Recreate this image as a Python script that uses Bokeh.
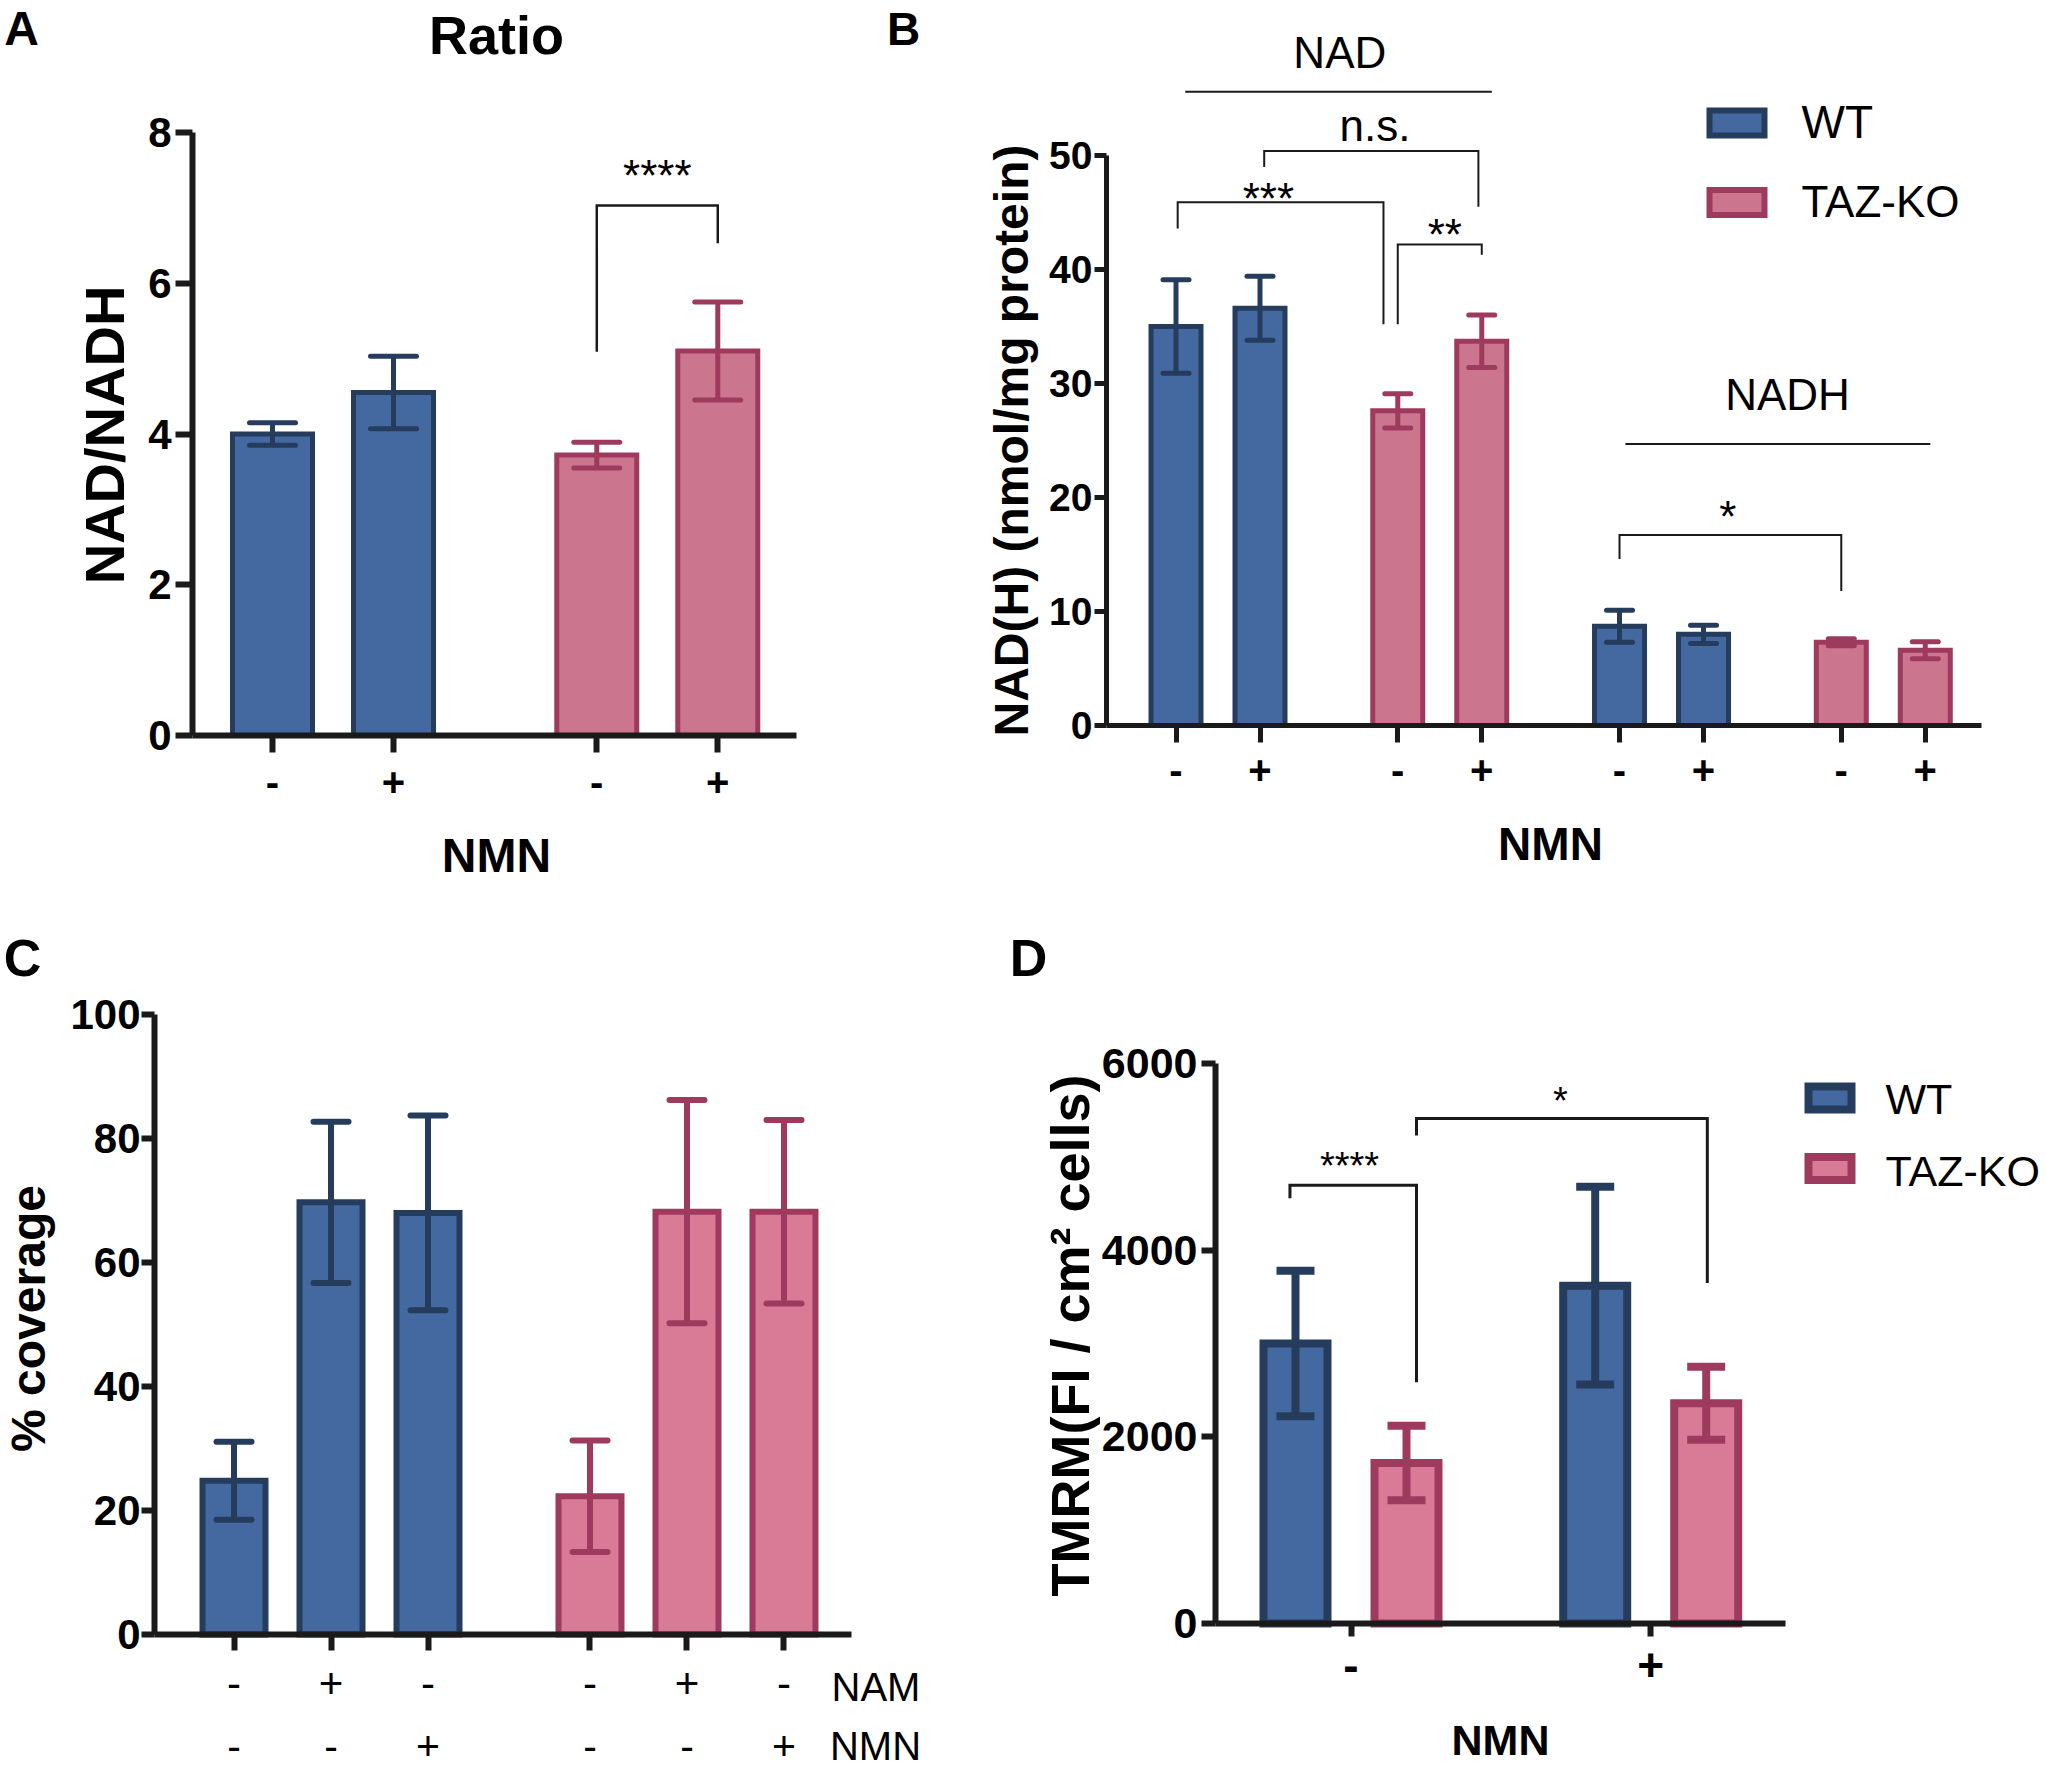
import math
from bokeh.plotting import figure
from bokeh.models import (Range1d, FixedTicker, Whisker, TeeHead, Label, LabelSet,
                          ColumnDataSource)
from bokeh.layouts import row, column
from bokeh.embed import file_html
from bokeh.resources import INLINE
from bokeh.core.properties import value

# ------------------------------------------------------------------ data
# Panel A : NAD/NADH ratio
a_nmn = ["-", "+", "-", "+"]
a_groups = ["WT", "WT", "TAZ-KO", "TAZ-KO"]
a_mean = [4.0, 4.55, 3.72, 5.1]
a_sem = [0.15, 0.48, 0.17, 0.65]
a_ticks_y = [0, 2, 4, 6, 8]

# Panel B : NAD(H) nmol/mg protein
b_nmn = ["-", "+", "-", "+", "-", "+", "-", "+"]
b_groups = ["WT", "WT", "TAZ-KO", "TAZ-KO", "WT", "WT", "TAZ-KO", "TAZ-KO"]
b_metab = ["NAD", "NAD", "NAD", "NAD", "NADH", "NADH", "NADH", "NADH"]
b_mean = [35.0, 36.6, 27.6, 33.7, 8.7, 8.0, 7.3, 6.6]
b_sem = [4.1, 2.8, 1.5, 2.3, 1.4, 0.8, 0.3, 0.75]
b_ticks_y = [0, 10, 20, 30, 40, 50]

# Panel C : % coverage
c_nam = ["-", "+", "-", "-", "+", "-"]
c_nmn = ["-", "-", "+", "-", "-", "+"]
c_groups = ["WT", "WT", "WT", "TAZ-KO", "TAZ-KO", "TAZ-KO"]
c_mean = [24.8, 69.7, 68.0, 22.3, 68.2, 68.2]
c_sem = [6.3, 13.0, 15.7, 9.0, 18.0, 14.8]
c_ticks_y = [0, 20, 40, 60, 80, 100]

# Panel D : TMRM
d_nmn_groups = ["-", "+"]
d_groups = ["WT", "TAZ-KO", "WT", "TAZ-KO"]
d_mean = [3000, 1720, 3620, 2360]
d_sem = [780, 400, 1060, 390]
d_ticks_y = [0, 2000, 4000, 6000]

# ------------------------------------------------------------------ style
FONT = "Liberation Sans"
WT_FILL, WT_LINE = "#4369a0", "#263c5c"
KO_FILL, KO_LINE = "#cc758e", "#9d3a5e"
KO_FILL2 = "#d97b97"
INK = "#1a1a1a"

# vertical anchor shift (in em, + = downwards on screen) for each kind of text
SHIFT = {"cap": 0.0, "star": 0.18, "base": -0.36}


class Panel:
    """A figure whose frame covers the whole figure; axes are pinned inside it."""

    def __init__(self, fig_box, yaxis_px, xaxis_py, first_x, first_px, pxu_x, pxu_y):
        fx, fy, fw, fh = fig_box
        self.fx, self.fy = fx, fy
        self.pxu_x, self.pxu_y = pxu_x, pxu_y
        self.axis_py = xaxis_py
        self.yaxis_px = yaxis_px
        self.x_start = first_x - (first_px - fx) / pxu_x
        x_end = self.x_start + fw / pxu_x
        y_start = -(fy + fh - xaxis_py) / pxu_y
        y_end = y_start + fh / pxu_y
        p = figure(width=fw, height=fh,
                   x_range=Range1d(self.x_start, x_end), y_range=Range1d(y_start, y_end),
                   output_backend="svg", toolbar_location=None,
                   min_border=0, min_border_left=0, min_border_right=0,
                   min_border_top=0, min_border_bottom=0)
        p.outline_line_color = None
        p.grid.visible = False
        p.title.visible = False
        self.p = p

    def X(self, px):
        return self.x_start + (px - self.fx) / self.pxu_x

    def Y(self, py):
        return (self.axis_py - py) / self.pxu_y

    def text(self, px, py, s, size, bold=False, angle=0.0, align="center", kind="cap"):
        off = SHIFT[kind] * size
        if angle:
            ax, ay = px + off, py
        else:
            ax, ay = px, py + off
        self.p.add_layout(Label(x=self.X(ax), y=self.Y(ay), text=s, text_font=FONT,
                                text_font_size=f"{size}px",
                                text_font_style="bold" if bold else "normal",
                                text_align=align, text_baseline="alphabetic",
                                angle=angle, text_color="black"))

    def text_data(self, x, yv, s, size, kind="star"):
        off = SHIFT[kind] * size
        self.p.add_layout(Label(x=x, y=yv - off / self.pxu_y, text=s, text_font=FONT,
                                text_font_size=f"{size}px", text_align="center",
                                text_baseline="alphabetic", text_color="black"))

    def bars(self, xs, mean, sem, groups, width, lw, cap, ko_fill, round_cap=True):
        for g, fill, line in (("WT", WT_FILL, WT_LINE), ("TAZ-KO", ko_fill, KO_LINE)):
            idx = [i for i, gg in enumerate(groups) if gg == g]
            src = ColumnDataSource(dict(
                x=[xs[i] for i in idx],
                top=[mean[i] for i in idx],
                lower=[mean[i] - sem[i] for i in idx],
                upper=[mean[i] + sem[i] for i in idx]))
            self.p.vbar(x="x", top="top", bottom=0, width=width, source=src,
                        fill_color=fill, line_color=line, line_width=lw,
                        line_join="miter")
            lc = "round" if round_cap else "butt"

            def head():
                return TeeHead(size=cap, line_color=line, line_width=lw, line_cap=lc)
            self.p.add_layout(Whisker(source=src, base="x", lower="lower", upper="upper",
                                      dimension="height", line_color=line, line_width=lw,
                                      upper_head=head(), lower_head=head(), level="overlay"))

    def bracket(self, x1, x2, y1, ytop, y2, lw):
        self.p.line([x1, x1, x2, x2], [y1, ytop, ytop, y2], line_color=INK,
                    line_width=lw, line_join="miter")

    def axes(self, xticks, xlabels, yticks, lw, xtick_out, ytick_out, xfs, yfs,
             xstand, ystand, x_end_px, xbold=True):
        p = self.p
        for ax in (p.xaxis[0], p.yaxis[0]):
            ax.axis_line_width = lw
            ax.axis_line_color = INK
            ax.major_tick_line_width = lw
            ax.major_tick_line_color = INK
            ax.major_tick_in = 0
            ax.minor_tick_line_color = None
            ax.major_label_text_font = FONT
            ax.major_label_text_color = "black"
        xa, ya = p.xaxis[0], p.yaxis[0]
        xa.fixed_location = 0
        xa.bounds = (self.X(self.yaxis_px), self.X(x_end_px))
        xa.ticker = FixedTicker(ticks=list(xticks))
        xa.major_label_overrides = {t: l for t, l in zip(xticks, xlabels)}
        xa.major_tick_out = xtick_out
        xa.major_label_text_font_size = f"{xfs}px"
        xa.major_label_text_font_style = "bold" if xbold else "normal"
        xa.major_label_standoff = xstand
        ya.fixed_location = self.X(self.yaxis_px)
        ya.bounds = (yticks[0], yticks[-1])
        ya.ticker = FixedTicker(ticks=list(yticks))
        ya.major_tick_out = ytick_out
        ya.major_label_text_font_size = f"{yfs}px"
        ya.major_label_text_font_style = "bold"
        ya.major_label_standoff = ystand


# ------------------------------------------------------------------ Panel A
a_x = [1, 2, 3.68, 4.68]
A = Panel((0, 0, 880, 882), 192, 735, a_x[0], 272, 121, 603 / 8)
A.bars(a_x, a_mean, a_sem, a_groups, 80 / 121, 5, 46, KO_FILL)
A.axes(a_x, a_nmn, a_ticks_y, 6, 17, 17, 40, 42, 15, 4, 796)
A.bracket(a_x[2], a_x[3], 5.09, 7.03, 6.53, 2.5)
A.text_data((a_x[2] + a_x[3]) / 2, 7.54, "****", 44)
A.text(21, 28, "A", 48, bold=True)
A.text(496, 34, "Ratio", 54, bold=True)
A.text(104, 434.5, "NAD/NADH", 56, bold=True, angle=math.pi / 2)
A.text(496, 855, "NMN", 48, bold=True)

# ------------------------------------------------------------------ Panel B
b_x = [1 + 2.64 * (i // 2) + (i % 2) for i in range(8)]
B = Panel((880, 0, 1160, 882), 1106, 725, b_x[0], 1175.5, 84, 570 / 50)
B.bars(b_x, b_mean, b_sem, b_groups, 50 / 84, 5, 26, KO_FILL)
B.axes(b_x, b_nmn, b_ticks_y, 5, 17, 12, 40, 39, 13, 2, 1981)
# significance brackets
B.bracket(b_x[0] + 0.02, 3.47, 43.6, 45.9, 35.2, 2)
B.text_data(2.1, 46.9, "***", 44)
B.bracket(b_x[2], b_x[3], 35.2, 42.2, 41.3, 2)
B.text_data(4.2, 43.8, "**", 44)
B.bracket(2.05, 4.6, 49.0, 50.4, 45.5, 2)
B.text_data(3.37, 51.2, "n.s.", 44, kind="base")
B.bracket(b_x[4], b_x[6], 14.6, 16.7, 11.8, 2)
B.text_data(7.57, 19.0, "*", 44)
# metabolite group lines
B.p.line([1.11, 4.76], [55.6, 55.6], line_color=INK, line_width=2)
B.text_data(2.95, 59.0, "NAD", 44, kind="cap")
B.p.line([6.35, 9.98], [24.7, 24.7], line_color=INK, line_width=2)
B.text_data(8.28, 29.0, "NADH", 44, kind="cap")
# legend
for cy, fill, line in ((122.5, WT_FILL, WT_LINE), (202.0, KO_FILL, KO_LINE)):
    B.p.rect(x=[B.X(1736.5)], y=[B.Y(cy)], width=55, height=25,
             width_units="screen", height_units="screen",
             fill_color=fill, line_color=line, line_width=6, line_join="miter")
B.text(1801, 121.5, "WT", 46, align="left")
B.text(1801, 201, "TAZ-KO", 44, align="left")
B.text(903, 28, "B", 46, bold=True)
B.text(1011, 440, "NAD(H) (nmol/mg protein)", 48, bold=True, angle=math.pi / 2)
B.text(1550, 843, "NMN", 46, bold=True)

# ------------------------------------------------------------------ Panel C
c_x = [1 + 3.67 * (i // 3) + (i % 3) for i in range(6)]
C = Panel((0, 882, 990, 886), 154, 1634, c_x[0], 233.5, 97, 6.2)
C.bars(c_x, c_mean, c_sem, c_groups, 63 / 97, 6, 35, KO_FILL2)
C.axes(c_x, c_nam, c_ticks_y, 6, 16, 13, 42, 42, 18, 1, 851, xbold=False)
C.p.add_layout(LabelSet(
    source=ColumnDataSource(dict(x=c_x, y=[C.Y(1747 + 0.3 * 41)] * len(c_x), t=c_nmn)),
    x="x", y="y", text="t", text_font=value(FONT), text_font_size=value("41px"),
    text_align="center", text_baseline="alphabetic", text_color="black"))
C.text(875.5, 1686, "NAM", 40, align="center")
C.text(875, 1745, "NMN", 40, align="center")
C.text(22, 957, "C", 52, bold=True)
C.text(28, 1318, "% coverage", 48, bold=True, angle=math.pi / 2)

# ------------------------------------------------------------------ Panel D
d_x = [1, 2, 3.7, 4.7]
d_tick_x = [(d_x[0] + d_x[1]) / 2, (d_x[2] + d_x[3]) / 2]
D = Panel((990, 882, 1050, 886), 1215, 1623, d_x[0], 1295, 111, 560 / 6000)
D.bars(d_x, d_mean, d_sem, d_groups, 64 / 111, 8, 38, KO_FILL2, round_cap=False)
D.axes(d_tick_x, d_nmn_groups, d_ticks_y, 6, 13, 14, 46, 43, 12, 4, 1785)
D.bracket(0.95, 2.09, 4555, 4695, 2584, 3)
D.text_data(1.487, 4976, "****", 38)
D.bracket(2.09, 4.71, 5228, 5411, 3647, 3)
D.text_data(3.387, 5675, "*", 38)
for cy, fill, line in ((1097.5, WT_FILL, WT_LINE), (1168, KO_FILL2, KO_LINE)):
    D.p.rect(x=[D.X(1829.5)], y=[D.Y(cy)], width=43, height=23,
             width_units="screen", height_units="screen",
             fill_color=fill, line_color=line, line_width=8, line_join="miter")
D.text(1885, 1098.5, "WT", 43, align="left")
D.text(1885, 1170, "TAZ-KO", 43, align="left")
D.text(1028, 957, "D", 52, bold=True)
D.text(1069, 1335, "TMRM(FI / cm² cells)", 54, bold=True, angle=math.pi / 2)
D.text(1500, 1739, "NMN", 43, bold=True)

layout = column(row(A.p, B.p), row(C.p, D.p))
open("out.html", "w").write(file_html(layout, INLINE))
